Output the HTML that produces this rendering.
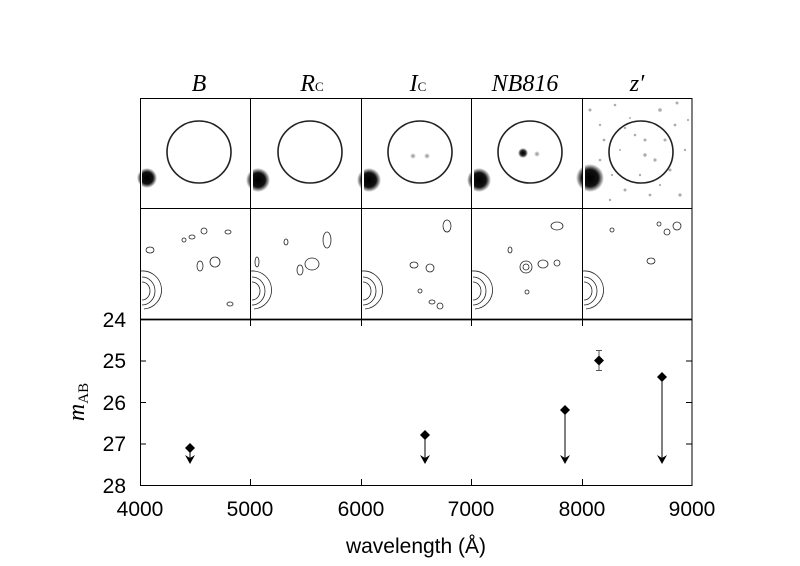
<!DOCTYPE html>
<html><head><meta charset="utf-8"><style>
html,body{margin:0;padding:0;background:#fff;width:800px;height:566px;overflow:hidden}
svg{display:block}
</style></head><body>
<svg width="800" height="566" xmlns="http://www.w3.org/2000/svg">
<defs>
<radialGradient id="blob"><stop offset="0" stop-color="#000"/><stop offset="0.6" stop-color="#111"/><stop offset="1" stop-color="#000" stop-opacity="0"/></radialGradient>
<radialGradient id="dot"><stop offset="0" stop-color="#888"/><stop offset="1" stop-color="#888" stop-opacity="0"/></radialGradient>
<radialGradient id="dot2"><stop offset="0" stop-color="#000"/><stop offset="0.5" stop-color="#222"/><stop offset="1" stop-color="#000" stop-opacity="0"/></radialGradient>
<g id="arcs" fill="none" stroke="#222" stroke-width="0.8">
<path d="M1,74 A8,9 0 1 1 1,92"/>
<path d="M1,69 A13,14 0 1 1 1,97"/>
<path d="M0,63 A19,19 0 1 1 3,101"/>
</g>
</defs>
<g font-family="Liberation Serif,serif" font-style="italic" font-size="24" text-anchor="middle" fill="#000">
<text x="199" y="91">B</text>
<text x="312" y="91">R<tspan font-style="normal" font-size="13">C</tspan></text>
<text x="418" y="91">I<tspan font-style="normal" font-size="13">C</tspan></text>
<text x="525" y="91">NB816</text>
<text x="637" y="91">z′</text>
</g>
<g fill="#999" opacity="0.8">
<circle cx="590" cy="110" r="1.5"/><circle cx="600" cy="125" r="1.2"/><circle cx="615" cy="105" r="1.3"/><circle cx="630" cy="118" r="1"/><circle cx="645" cy="140" r="1.5"/><circle cx="660" cy="110" r="1.8"/><circle cx="675" cy="125" r="1.4"/><circle cx="685" cy="150" r="1.2"/><circle cx="670" cy="170" r="1.5"/><circle cx="655" cy="160" r="1.6"/><circle cx="640" cy="175" r="1.2"/><circle cx="625" cy="190" r="1.5"/><circle cx="610" cy="200" r="1.2"/><circle cx="600" cy="160" r="1.3"/><circle cx="620" cy="150" r="1"/><circle cx="650" cy="195" r="1.4"/><circle cx="680" cy="195" r="1.6"/><circle cx="665" cy="140" r="1.5"/><circle cx="635" cy="135" r="1.3"/><circle cx="595" cy="185" r="1.2"/><circle cx="688" cy="120" r="1.1"/><circle cx="612" cy="175" r="1.1"/><circle cx="645" cy="155" r="1.7"/><circle cx="660" cy="185" r="1.1"/><circle cx="625" cy="128" r="1.2"/><circle cx="677" cy="103" r="1.5"/><circle cx="604" cy="140" r="1.4"/>
</g>
<circle cx="147" cy="178" r="10" fill="url(#blob)"/>
<circle cx="258" cy="180" r="12" fill="url(#blob)"/>
<circle cx="369" cy="180" r="12" fill="url(#blob)"/>
<circle cx="479" cy="180" r="12" fill="url(#blob)"/>
<circle cx="590" cy="178" r="14" fill="url(#blob)"/>
<circle cx="413" cy="156" r="3" fill="url(#dot)"/><circle cx="427" cy="156" r="3" fill="url(#dot)"/>
<circle cx="523" cy="153" r="5" fill="url(#dot2)"/><circle cx="537" cy="154" r="3" fill="url(#dot)"/>
<rect x="140" y="98" width="2" height="110" fill="#fff"/>
<rect x="251" y="98" width="2" height="110" fill="#fff"/>
<rect x="362" y="98" width="2" height="110" fill="#fff"/>
<rect x="472" y="98" width="2" height="110" fill="#fff"/>
<rect x="583" y="98" width="2" height="110" fill="#fff"/>
<g fill="none" stroke="#222" stroke-width="1.6">
<ellipse cx="199" cy="152" rx="32" ry="31"/>
<ellipse cx="310" cy="152" rx="32" ry="31"/>
<ellipse cx="420" cy="152" rx="32" ry="31"/>
<ellipse cx="530" cy="152" rx="32" ry="31"/>
<ellipse cx="641" cy="152" rx="32" ry="31"/>
</g>
<use href="#arcs" x="141" y="208"/><use href="#arcs" x="251" y="208"/><use href="#arcs" x="362" y="208"/><use href="#arcs" x="472" y="208"/><use href="#arcs" x="583" y="208"/>
<g fill="none" stroke="#222" stroke-width="0.8">
<ellipse cx="204" cy="231" rx="3" ry="3"/><ellipse cx="192" cy="237" rx="3" ry="2"/><ellipse cx="150" cy="250" rx="4" ry="3"/><ellipse cx="215" cy="262" rx="5" ry="5"/><ellipse cx="200" cy="266" rx="3" ry="5"/><ellipse cx="228" cy="232" rx="3" ry="2"/><ellipse cx="230" cy="304" rx="3" ry="2"/><ellipse cx="184" cy="240" rx="2" ry="2"/>
<ellipse cx="327" cy="240" rx="4" ry="8"/><ellipse cx="312" cy="264" rx="7" ry="6"/><ellipse cx="300" cy="270" rx="3" ry="5"/><ellipse cx="286" cy="242" rx="2" ry="3"/><ellipse cx="257" cy="262" rx="2" ry="5"/>
<ellipse cx="447" cy="226" rx="4" ry="6"/><ellipse cx="430" cy="268" rx="4" ry="4"/><ellipse cx="414" cy="265" rx="4" ry="3"/><ellipse cx="440" cy="306" rx="3" ry="3"/><ellipse cx="420" cy="291" rx="2" ry="2"/><ellipse cx="432" cy="302" rx="3" ry="2"/>
<ellipse cx="526" cy="267" rx="6" ry="6"/><ellipse cx="526" cy="267" rx="3" ry="3"/><ellipse cx="543" cy="264" rx="5" ry="4"/><ellipse cx="557" cy="263" rx="3" ry="3"/><ellipse cx="557" cy="226" rx="6" ry="4"/><ellipse cx="510" cy="250" rx="2" ry="3"/><ellipse cx="527" cy="292" rx="2" ry="2"/>
<ellipse cx="677" cy="226" rx="4" ry="4"/><ellipse cx="667" cy="232" rx="3" ry="3"/><ellipse cx="651" cy="261" rx="4" ry="3"/><ellipse cx="612" cy="230" rx="2" ry="2"/><ellipse cx="659" cy="224" rx="2" ry="2"/>
</g>
<g fill="none" stroke="#000" stroke-width="1">
<rect x="140.5" y="98.5" width="551.5" height="221"/>
<line x1="140" y1="208.5" x2="692" y2="208.5"/>
<line x1="250.5" y1="98" x2="250.5" y2="320"/>
<line x1="361.5" y1="98" x2="361.5" y2="320"/>
<line x1="471.5" y1="98" x2="471.5" y2="320"/>
<line x1="582.5" y1="98" x2="582.5" y2="320"/>
</g>
<g stroke="#000" fill="none" stroke-width="1">
<rect x="140.5" y="319.5" width="551.5" height="166"/>
<line x1="140" y1="319.5" x2="692" y2="319.5" stroke-width="1.8"/>
<path d="M250.5,485 v-6 M361.5,485 v-6 M471.5,485 v-6 M582.5,485 v-6 M250.5,320 v6 M361.5,320 v6 M471.5,320 v6 M582.5,320 v6 M140,361 h6 M140,402.5 h6 M140,444 h6 M692,361 h-6 M692,402.5 h-6 M692,444 h-6"/>
</g>
<g font-family="Liberation Sans,sans-serif" font-size="21" fill="#000">
<g text-anchor="end"><text x="126" y="327">24</text><text x="126" y="368">25</text><text x="126" y="410">26</text><text x="126" y="451">27</text><text x="126" y="493">28</text></g>
<g text-anchor="middle"><text x="140" y="516">4000</text><text x="250" y="516">5000</text><text x="361" y="516">6000</text><text x="471" y="516">7000</text><text x="582" y="516">8000</text><text x="692" y="516">9000</text>
<text x="416" y="553">wavelength (Å)</text></g>
</g>
<text transform="translate(84,402) rotate(-90)" text-anchor="middle" font-family="Liberation Serif,serif" font-size="24" font-style="italic">m<tspan font-style="normal" font-size="15" dy="4">AB</tspan></text>
<g stroke="#000" stroke-width="1" fill="none">
<line x1="190" y1="448" x2="190" y2="462"/><line x1="425" y1="435" x2="425" y2="462"/><line x1="565" y1="410" x2="565" y2="462"/><line x1="662" y1="377" x2="662" y2="462"/>
<path d="M596,350.5 h6 M599,350.5 v20 M596,370.5 h6" stroke="#555"/>
</g>
<g fill="#000">
<path d="M185,455 L190,464 L195,455 L190,458Z"/><path d="M420,455 L425,464 L430,455 L425,458Z"/><path d="M560,455 L565,464 L570,455 L565,458Z"/><path d="M657,455 L662,464 L667,455 L662,458Z"/>
<path d="M190,443 l5,5 l-5,5 l-5,-5Z"/><path d="M425,430 l5,5 l-5,5 l-5,-5Z"/><path d="M565,405 l5,5 l-5,5 l-5,-5Z"/><path d="M599,355.5 l5,5 l-5,5 l-5,-5Z"/><path d="M662,372 l5,5 l-5,5 l-5,-5Z"/>
</g>
</svg>
</body></html>
